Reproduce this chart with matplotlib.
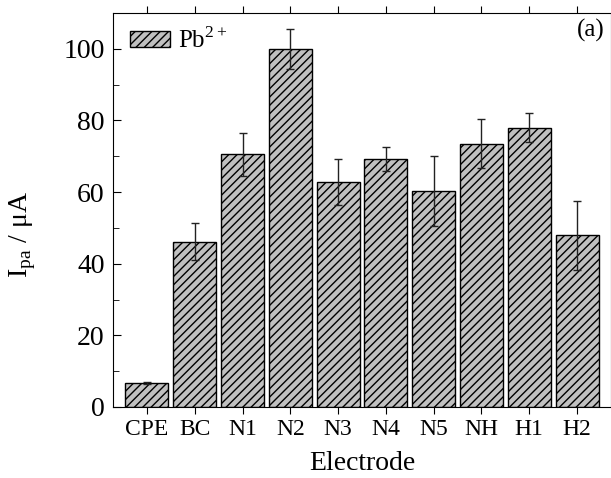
import numpy as np
import matplotlib.pyplot as plt
from matplotlib.ticker import MultipleLocator

plt.rcParams['font.family'] = ['Liberation Serif', 'DejaVu Serif']
plt.rcParams['mathtext.fontset'] = 'custom'
plt.rcParams['mathtext.rm'] = 'Liberation Serif'
plt.rcParams['hatch.linewidth'] = 1.0

# data
electrodes = ['CPE', 'BC', 'N1', 'N2', 'N3', 'N4', 'N5', 'NH', 'H1', 'H2']
current = [6.6, 46.2, 70.5, 100.0, 62.8, 69.2, 60.4, 73.5, 78.0, 47.9]
error = [0.3, 5.1, 5.9, 5.6, 6.3, 3.3, 9.8, 6.8, 4.0, 9.6]

x = np.arange(1, len(electrodes) + 1)

fig = plt.figure(figsize=(6.11, 4.78), dpi=100)
ax = fig.add_axes([113 / 611, 1 - 407 / 478, (611 - 113) / 611, (407 - 13) / 478])

ax.bar(x, current, width=0.9, color='#c0c0c0', edgecolor='black', linewidth=1.0,
       hatch='////', label='Pb$^{\\mathrm{2+}}$')
ax.errorbar(x, current, yerr=error, fmt='none', ecolor='#222222', elinewidth=1.0,
            capsize=3, capthick=1.0)

ax.set_xlim(0.29, 10.71)
ax.set_ylim(0, 110)
ax.set_xticks(x)
ax.set_xticklabels(electrodes)
ax.yaxis.set_major_locator(MultipleLocator(20))
ax.yaxis.set_minor_locator(MultipleLocator(10))
ax.tick_params(axis='y', which='both', direction='in', labelsize=20)
ax.tick_params(axis='y', which='major', length=6, pad=6)
ax.tick_params(axis='y', which='minor', length=4)
ax.tick_params(axis='x', which='both', direction='out', labelsize=17, length=5, top=True)

ax.set_xlabel('Electrode', fontsize=20, labelpad=8)
ax.set_ylabel('I$_{\\mathrm{pa}}$ / μA', fontsize=20)
ax.yaxis.set_label_coords(-0.15, 0.437)

ax.text(0.988, 0.955, '(a)', transform=ax.transAxes, ha='right', va='center', fontsize=18)
ax.legend(loc='upper left', bbox_to_anchor=(17 / 498, 1 - 14 / 394), frameon=False,
          fontsize=18, handlelength=1.6, handleheight=0.64,
          borderaxespad=0, borderpad=0, handletextpad=0.3)

fig.savefig('out.png', dpi=100)
